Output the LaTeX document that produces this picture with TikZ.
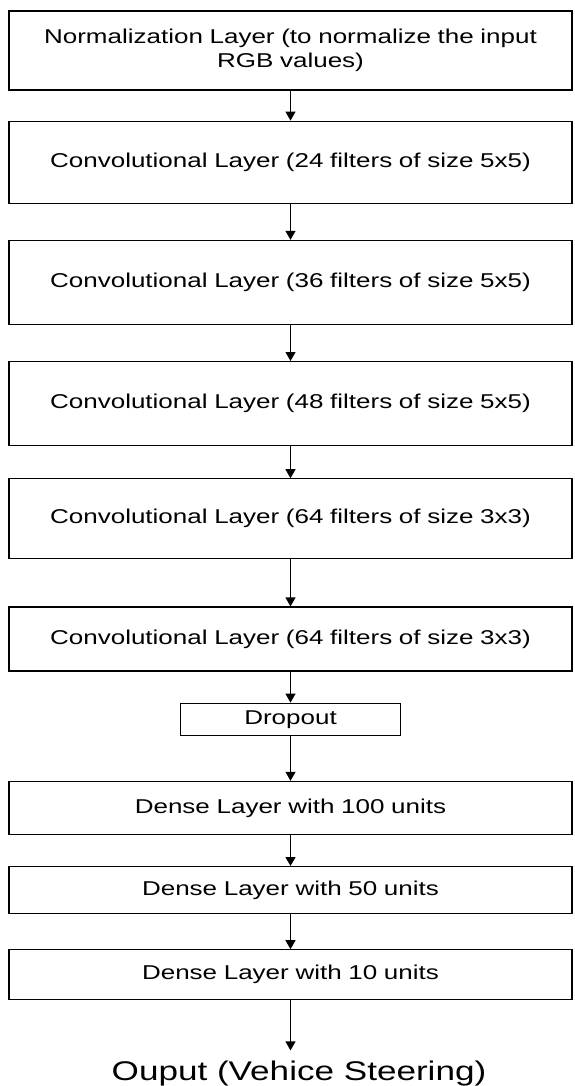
\documentclass[tikz,border=0pt]{standalone}
\usepackage{fontspec}
\setmainfont{Liberation Sans}
\newfontfamily\layerfont[FakeStretch=1.3]{Liberation Sans}
\usetikzlibrary{positioning,arrows.meta}

\tikzset{
    layer/.style={draw, line width=1.2pt, minimum width=563pt, text width=550pt, align=center, inner sep=0pt, font=\layerfont\fontsize{20pt}{24pt}\selectfont},
    flow/.style={-{Triangle[length=9pt,width=10pt]}, line width=1.2pt},
}

\begin{document}
\begin{tikzpicture}[x=1pt,y=1pt]
        \useasboundingbox (0,0) rectangle (574,-1086);

        % convolutional part
        \node[layer, minimum height=79pt] (norm) at (290.5,-50.5) {Normalization Layer (to normalize the input\\RGB values)};
        \node[layer, minimum height=82pt, below=30pt of norm] (conv1) {Convolutional Layer (24 filters of size 5x5)};
        \node[layer, minimum height=84pt, below=36pt of conv1] (conv2) {Convolutional Layer (36 filters of size 5x5)};
        \node[layer, minimum height=84pt, below=36pt of conv2] (conv3) {Convolutional Layer (48 filters of size 5x5)};
        \node[layer, minimum height=80pt, below=32pt of conv3] (conv4) {Convolutional Layer (64 filters of size 3x3)};
        \node[layer, minimum height=64pt, below=47pt of conv4] (conv5) {Convolutional Layer (64 filters of size 3x3)};

        % dropout
        \node[layer, minimum width=220pt, text width=200pt, minimum height=32pt, below=31pt of conv5] (drop) {Dropout};

        % dense part
        \node[layer, minimum height=53pt, below=45pt of drop] (dense1) {Dense Layer with 100 units};
        \node[layer, minimum height=47pt, below=31pt of dense1] (dense2) {Dense Layer with 50 units};
        \node[layer, minimum height=50pt, below=35pt of dense2] (dense3) {Dense Layer with 10 units};

        % output
        \coordinate[below=50pt of dense3.south] (outtip);
        \node[anchor=base, font=\layerfont\fontsize{27pt}{31pt}\selectfont] (out) at (299,-1080) {Ouput (Vehice Steering)};

        % arrows
        \draw[flow] (norm) -- (conv1);
        \draw[flow] (conv1) -- (conv2);
        \draw[flow] (conv2) -- (conv3);
        \draw[flow] (conv3) -- (conv4);
        \draw[flow] (conv4) -- (conv5);
        \draw[flow] (conv5) -- (drop);
        \draw[flow] (drop) -- (dense1);
        \draw[flow] (dense1) -- (dense2);
        \draw[flow] (dense2) -- (dense3);
        \draw[flow] (dense3) -- (outtip);
\end{tikzpicture}
\end{document}
